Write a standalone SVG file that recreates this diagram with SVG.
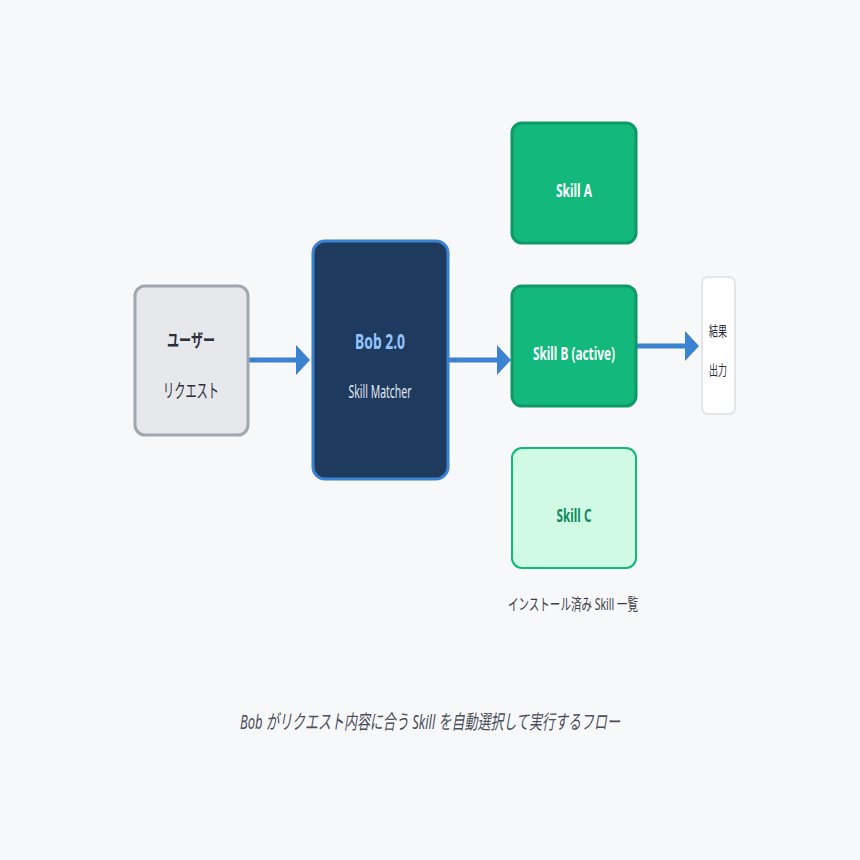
<svg xmlns="http://www.w3.org/2000/svg" width="860" height="860" viewBox="0 0 860 860">
<style>
text{font-family:"Noto Sans","Noto Sans CJK JP",sans-serif;text-anchor:middle}
.g{fill:#12b87c;stroke:#0e9a67;stroke-width:3}
.w{fill:#fff;font-weight:bold;font-size:18px}
.c{stroke:#3b82d0;stroke-width:5;fill:none}
</style>
<defs><marker id="a" markerWidth="4" markerHeight="7" refX="0" refY="3.2" orient="auto" markerUnits="strokeWidth"><path d="M0,0.2L2.8,3.2L0,6.2z" fill="#3b82d0"/></marker></defs>
<rect width="860" height="860" fill="#f7f8fa"/>
<g id="connectors">
<path class="c" d="M248,360H296" marker-end="url(#a)"/>
<path class="c" d="M448,360H497" marker-end="url(#a)"/>
<path class="c" d="M636,346H685" marker-end="url(#a)"/>
</g>
<g id="user"><rect x="135" y="286" width="113" height="149" rx="10" fill="#e6e8ec" stroke="#a2a6b0" stroke-width="3"/>
<text x="191" y="347" font-size="18" font-weight="bold" fill="#2a2f3a" textLength="48" lengthAdjust="spacingAndGlyphs">ユーザー</text>
<text x="191" y="398" font-size="19" fill="#2a2f3a" textLength="56" lengthAdjust="spacingAndGlyphs">リクエスト</text></g>
<g id="bob"><rect x="313" y="241" width="135" height="238" rx="12" fill="#1e3a5f" stroke="#3b82d0" stroke-width="3"/>
<text x="380" y="349" font-size="21" font-weight="bold" fill="#93c5fd" textLength="50" lengthAdjust="spacingAndGlyphs">Bob 2.0</text>
<text x="380" y="398" font-size="18" fill="#e2e8f0" textLength="63" lengthAdjust="spacingAndGlyphs">Skill Matcher</text></g>
<g id="skillA"><rect class="g" x="512" y="123" width="124" height="120" rx="10"/><text class="w" x="574" y="197" textLength="36" lengthAdjust="spacingAndGlyphs">Skill A</text></g>
<g id="skillB"><rect class="g" x="512" y="286" width="124" height="120" rx="10"/><text class="w" x="574" y="360" textLength="82" lengthAdjust="spacingAndGlyphs">Skill B (active)</text></g>
<g id="skillC"><rect x="512" y="448" width="124" height="120" rx="10" fill="#d1fae5" stroke="#12b87c" stroke-width="2"/><text x="574" y="522" font-size="18" font-weight="bold" fill="#0e8a5c" textLength="35" lengthAdjust="spacingAndGlyphs">Skill C</text></g>
<text x="573" y="610" font-size="16" fill="#3a3f4a" textLength="130" lengthAdjust="spacingAndGlyphs">インストール済み Skill 一覧</text>
<g id="result"><rect x="702" y="277" width="33" height="137" rx="6" fill="#fff" stroke="#e3e5e9" stroke-width="2"/>
<text x="718" y="336" font-size="14" fill="#2a2f3a" textLength="18" lengthAdjust="spacingAndGlyphs">結果</text>
<text x="718" y="375" font-size="14" fill="#2a2f3a" textLength="18" lengthAdjust="spacingAndGlyphs">出力</text></g>
<text x="430" y="729" font-size="20" font-style="italic" fill="#4a4f5a" textLength="380" lengthAdjust="spacingAndGlyphs">Bob がリクエスト内容に合う Skill を自動選択して実行するフロー</text>
</svg>
